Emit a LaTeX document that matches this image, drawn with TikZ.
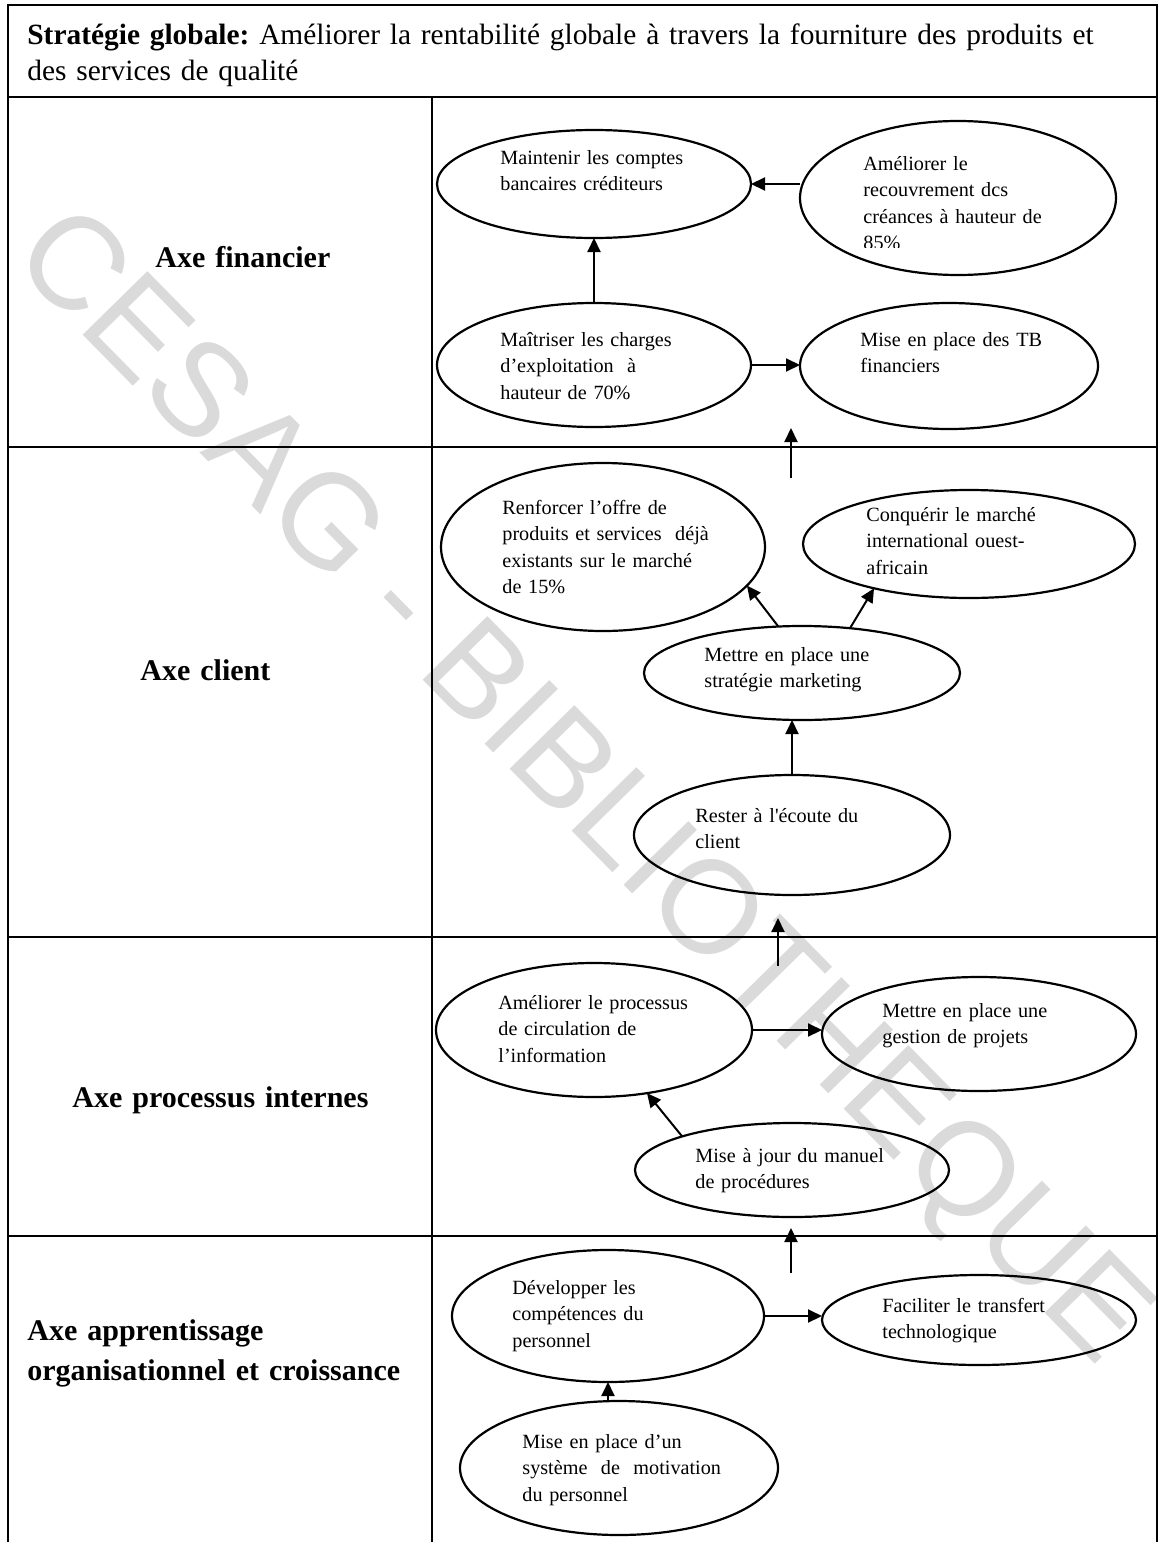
\documentclass[tikz,border=0pt]{standalone}
\usepackage{fontspec}
\setmainfont{Liberation Serif}
\setsansfont{Liberation Sans}
\usetikzlibrary{arrows.meta,shapes.geometric,calc}

\definecolor{wmgray}{RGB}{218,218,218}

\begin{document}
\frenchspacing
\begin{tikzpicture}[x=0.5pt,y=-0.5pt,
  frame/.style={line width=1.3pt},
  goal/.style={draw, ellipse, line width=1.1pt, inner sep=0pt, outer sep=0pt},
  goaltext/.style={anchor=base west, inner sep=0pt, text width=190pt, align=left,
    font=\fontsize{10.1}{13.3}\selectfont},
  axislabel/.style={anchor=base west, inner sep=0pt, text width=200pt, align=left,
    font=\fontsize{15}{20}\selectfont\bfseries},
  link/.style={line width=1pt, -{Triangle[length=7pt,width=6.5pt]}},
]
\useasboundingbox (0,0) rectangle (1165,1542);

% watermark
\node[text=wmgray, rotate=-45.5, inner sep=0pt,
  font=\sffamily\fontsize{66}{66}\selectfont] (wm) at (578,790) {CESAG - BIBLIOTHEQUE};

% table frame
\draw[frame] (8,1542) -- (8,5) -- (1157,5) -- (1157,1542);
\draw[frame] (8,97) -- (1157,97);
\draw[frame] (8,447) -- (1157,447);
\draw[frame] (8,937) -- (1157,937);
\draw[frame] (8,1236) -- (1157,1236);
\draw[frame] (432,97) -- (432,1542);

% heading
\node[anchor=base west, inner sep=0pt, text width=570pt, align=left,
  font=\fontsize{14.7}{18}\selectfont] (title) at (27,44)
  {\textbf{Stratégie globale:} Améliorer la rentabilité globale à travers la fourniture des produits et\\
   des services de qualité};

% row labels
\node[axislabel] (lfin) at (155,267) {Axe financier};
\node[axislabel] (lcli) at (140,680) {Axe client};
\node[axislabel] (lpro) at (72,1107) {Axe processus internes};
\node[axislabel] (lapp) at (27,1340) {Axe apprentissage\\organisationnel et croissance};

% objectives
\node[goal, minimum width=157pt, minimum height=54pt] (e1) at (594,184) {};
\node[goal, minimum width=158pt, minimum height=77pt] (e2) at (958,198) {};
\node[goal, minimum width=157pt, minimum height=62pt] (e3) at (594,365) {};
\node[goal, minimum width=149pt, minimum height=63pt] (e4) at (949,366) {};
\node[goal, minimum width=162pt, minimum height=84pt] (e5) at (603,547) {};
\node[goal, minimum width=166pt, minimum height=54pt] (e6) at (969,544) {};
\node[goal, minimum width=158pt, minimum height=47pt] (e7) at (802,673) {};
\node[goal, minimum width=158pt, minimum height=60pt] (e8) at (792,835) {};
\node[goal, minimum width=158pt, minimum height=67pt] (e9) at (594,1030) {};
\node[goal, minimum width=157pt, minimum height=57pt] (e10) at (979,1034) {};
\node[goal, minimum width=157pt, minimum height=47pt] (e11) at (792,1170) {};
\node[goal, minimum width=156pt, minimum height=66pt] (e12) at (608,1316) {};
\node[goal, minimum width=157pt, minimum height=45pt] (e13) at (979,1320) {};
\node[goal, minimum width=159pt, minimum height=67pt] (e14) at (619,1468) {};

% objective texts
\node[goaltext] (t1) at (500,164) {Maintenir les comptes\\bancaires créditeurs};
\begin{scope}
  \clip (830,130) rectangle (1100,247);
  \node[goaltext] (t2) at (863,170) {Améliorer le\\recouvrement dcs\\créances à hauteur de\\85\%};
\end{scope}
\node[goaltext] (t3) at (500,346) {Maîtriser les charges\\d’exploitation \ à\\hauteur de 70\%};
\node[goaltext] (t4) at (860,346) {Mise en place des TB\\financiers};
\node[goaltext] (t5) at (502,514) {Renforcer l’offre de\\produits et services \ déjà\\existants sur le marché\\de 15\%};
\node[goaltext] (t6) at (866,521) {Conquérir le marché\\international ouest-\\africain};
\node[goaltext] (t7) at (704,661) {Mettre en place une\\stratégie marketing};
\node[goaltext] (t8) at (695,822) {Rester à l\textquotesingle écoute du\\client};
\node[goaltext] (t9) at (498,1009) {Améliorer le processus\\de circulation de\\l’information};
\node[goaltext] (t10) at (882,1017) {Mettre en place une\\gestion de projets};
\node[goaltext] (t11) at (695,1162) {Mise à jour du manuel\\de procédures};
\node[goaltext] (t12) at (512,1294) {Développer les\\compétences du\\personnel};
\node[goaltext] (t13) at (882,1312) {Faciliter le transfert\\technologique};
\node[goaltext] (t14) at (522,1448) {Mise en place d’un\\système \ de \ motivation\\du personnel};

% links between objectives
\draw[link] (e2.west |- e1.east) -- (e1.east);
\draw[link] (e3.north) -- (e1.south);
\draw[link] (e3.east) -- (e3.east -| e4.west);
\draw[link] (e7.117) -- (e5.345);
\draw[link] (e7.43) -- (e6.205);
\draw[link] (e8.north) -- (e8.north |- e7.south);
\draw[link] (e9.east) -- (e9.east -| e10.west);
\draw[link] (e11.163) -- (e9.310);
\draw[link] (e12.east) -- (e12.east -| e13.west);
\draw[link] (e12.south |- e14.north) -- (e12.south);

% links crossing from one axis to the next
\coordinate (cliout) at (791,478);
\coordinate (finin) at (791,428);
\draw[link] (cliout) -- (finin);
\coordinate (proout) at (778,966);
\coordinate (cliin) at (778,918);
\draw[link] (proout) -- (cliin);
\coordinate (appout) at (791,1273);
\coordinate (proin) at (791,1228);
\draw[link] (appout) -- (proin);
\end{tikzpicture}
\end{document}
